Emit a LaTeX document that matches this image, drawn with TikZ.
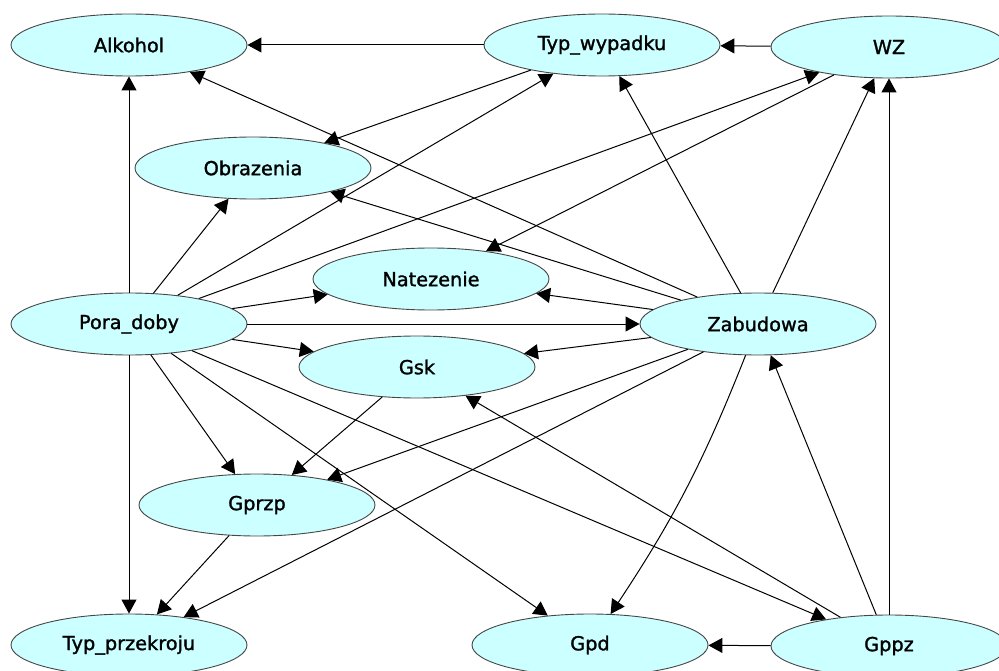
\documentclass[tikz,border=0pt]{standalone}
\usepackage{fontspec}
\setmainfont[FakeBold=1.4]{DejaVu Sans}
\usetikzlibrary{shapes.geometric,arrows.meta}
\definecolor{nodefill}{RGB}{204,255,255}
\definecolor{nodeline}{RGB}{70,70,70}
\begin{document}
\begin{tikzpicture}[x=1pt,y=1pt,
  var/.style={ellipse,draw=nodeline,line width=0.9pt,fill=nodefill,
    minimum width=236pt,minimum height=62pt,inner sep=0pt,
    font=\fontsize{19.3}{20}\selectfont},
  link/.style={line width=1pt,-{Triangle[length=14pt,width=15pt]}}]
\useasboundingbox (0,0) rectangle (999,-671);
% variables
\node[var] (alk) at (129,-45)  {Alkohol};
\node[var] (typw) at (602,-45) {Typ\_wypadku};
\node[var] (wz)  at (889,-47)  {WZ};
\node[var] (obr) at (253,-168) {Obrazenia};
\node[var] (nat) at (431,-279) {Natezenie};
\node[var] (pora) at (129,-324) {Pora\_doby};
\node[var] (zab) at (758,-324) {Zabudowa};
\node[var] (gsk) at (417,-367) {Gsk};
\node[var] (gprzp) at (257,-505) {Gprzp};
\node[var] (typp) at (129,-645) {Typ\_przekroju};
\node[var] (gpd) at (590,-645) {Gpd};
\node[var] (gppz) at (889,-646) {Gppz};
% dependencies
\draw[link] (typw) -- (alk);
\draw[link] (wz) -- (typw);
\draw[link] (pora) -- (alk);
\draw[link] (zab) -- (alk);
\draw[link] (typw) -- (obr);
\draw[link] (pora) -- (typw);
\draw[link] (pora) -- (obr);
\draw[link] (pora) -- (wz);
\draw[link] (wz) -- (nat);
\draw[link] (zab) -- (obr);
\draw[link] (zab) -- (typw);
\draw[link] (zab) -- (wz);
\draw[link] (gppz) -- (wz);
\draw[link] (pora) -- (nat);
\draw[link] (zab) -- (nat);
\draw[link] (pora) -- (zab);
\draw[link] (pora) -- (gsk);
\draw[link] (zab) -- (gsk);
\draw[link] (pora) -- (typp);
\draw[link] (pora) -- (gprzp);
\draw[link] (gsk) -- (gprzp);
\draw[link] (zab) -- (gprzp);
\draw[link] (zab) -- (typp);
\draw[link] (gprzp) -- (typp);
\draw[link] (pora) -- (gpd);
\draw[link] (pora) -- (gppz);
\draw[link] (gppz) -- (gsk);
\draw[link] (zab) to[bend left=6] (gpd);
\draw[link] (gppz) -- (zab);
\draw[link] (gppz) -- (gpd);
\end{tikzpicture}
\end{document}
